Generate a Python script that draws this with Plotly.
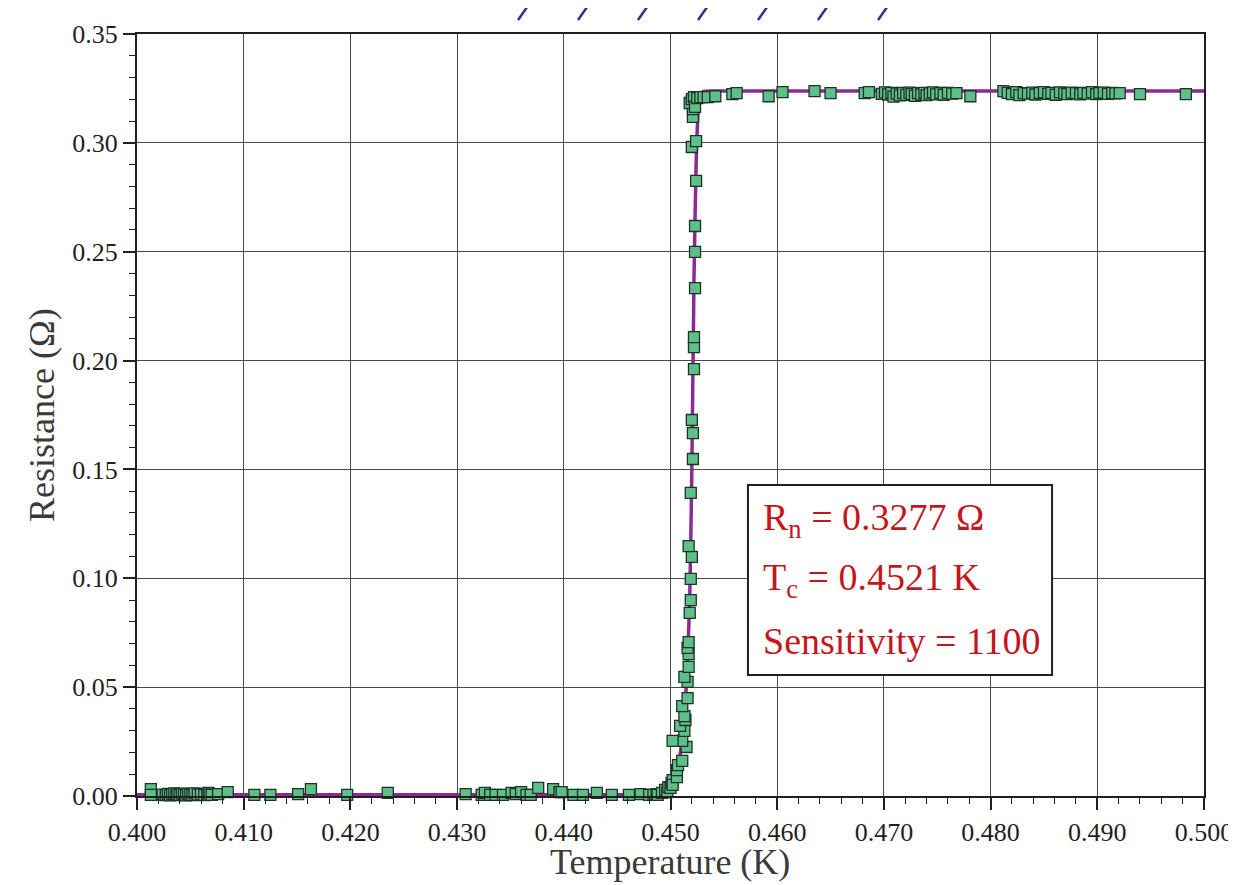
import plotly.graph_objects as go

# ---- fitted curve ----
fit_T = [0.4000, 0.4460, 0.4480, 0.4490, 0.4497, 0.4503, 0.4508, 0.4511, 0.4515,
         0.4518, 0.4520, 0.4522, 0.4524, 0.4526, 0.45275, 0.4530, 0.4540, 0.5000]
fit_R = [0.0006, 0.0006, 0.0008, 0.0013, 0.0030, 0.0080, 0.0160, 0.0270, 0.0520,
         0.0900, 0.1500, 0.2370, 0.2900, 0.3150, 0.3220, 0.3235, 0.3238, 0.3238]

low_T = [0.4013, 0.4013, 0.4024, 0.4027, 0.4029, 0.4031, 0.4033, 0.4035, 0.4037,
         0.4038, 0.4040, 0.4042, 0.4044, 0.4046, 0.4048, 0.4050, 0.4052, 0.4054,
         0.4057, 0.4060, 0.4063, 0.4066, 0.4067, 0.4068, 0.4070, 0.4076, 0.4085,
         0.4110, 0.4125, 0.4151, 0.4163, 0.4197, 0.4235, 0.4308, 0.4323, 0.4326,
         0.4331, 0.4336, 0.4343, 0.4351, 0.4355, 0.4360, 0.4365, 0.4369, 0.4376,
         0.4390, 0.4396, 0.4398, 0.4409, 0.4418, 0.4431, 0.4445, 0.4461, 0.4472,
         0.4480, 0.4484, 0.4487, 0.4488, 0.4492, 0.4495, 0.4497, 0.4498, 0.4500,
         0.4501, 0.4502, 0.4502, 0.4506, 0.4506, 0.4507]
low_R = [0.0032, 0.0005, 0.0006, 0.0004, 0.0010, 0.0003, 0.0008, 0.0012, 0.0005,
         0.0009, 0.0004, 0.0011, 0.0006, 0.0003, 0.0010, 0.0007, 0.0004, 0.0012,
         0.0006, 0.0009, 0.0004, 0.0011, 0.0014, 0.0006, 0.0005, 0.0009, 0.0018,
         0.0005, 0.0005, 0.0009, 0.0032, 0.0005, 0.0014, 0.0009, 0.0005, 0.0014,
         0.0005, 0.0005, 0.0005, 0.0014, 0.0009, 0.0018, 0.0005, 0.0005, 0.0037,
         0.0032, 0.0018, 0.0018, 0.0005, 0.0005, 0.0014, 0.0005, 0.0005, 0.0009,
         0.0005, 0.0005, 0.0009, 0.0005, 0.0014, 0.0028, 0.0018, 0.0041, 0.0037,
         0.0060, 0.0073, 0.0051, 0.0087, 0.0119, 0.0142]

mid_T = [0.4511, 0.4515, 0.4511, 0.4513, 0.4509, 0.4514, 0.4513, 0.4502, 0.4511,
         0.4516, 0.4516, 0.4513, 0.4517, 0.4517, 0.4516, 0.4517, 0.4518, 0.4519,
         0.4519, 0.4520, 0.4517, 0.4519, 0.4521, 0.4521, 0.4520, 0.4522, 0.4522,
         0.4522, 0.4523, 0.4523, 0.4523, 0.4524, 0.4520, 0.4524, 0.4521]
mid_R = [0.0161, 0.0225, 0.0253, 0.0299, 0.0322, 0.0349, 0.0367, 0.0253, 0.0413,
         0.0450, 0.0524, 0.0547, 0.0593, 0.0652, 0.0680, 0.0707, 0.0841, 0.0900,
         0.0997, 0.1098, 0.1148, 0.1392, 0.1548, 0.1667, 0.1727, 0.1961, 0.2062,
         0.2108, 0.2333, 0.2499, 0.2618, 0.2825, 0.2981, 0.3008, 0.3119]

high_T = [0.4521, 0.4518, 0.4520, 0.4522, 0.4523, 0.4525, 0.4528, 0.4531, 0.4535,
          0.4542, 0.4558, 0.4562, 0.4592, 0.4605, 0.4635, 0.4650, 0.4682, 0.4686,
          0.4698, 0.4701, 0.4704, 0.4707, 0.4709, 0.4712, 0.4715, 0.4718, 0.4721,
          0.4724, 0.4726, 0.4729, 0.4732, 0.4735, 0.4738, 0.4740, 0.4743, 0.4746,
          0.4749, 0.4753, 0.4756, 0.4760, 0.4764, 0.4768, 0.4781, 0.4812, 0.4816,
          0.4820, 0.4824, 0.4827, 0.4831, 0.4835, 0.4839, 0.4842, 0.4846, 0.4850,
          0.4854, 0.4857, 0.4861, 0.4865, 0.4869, 0.4872, 0.4876, 0.4880, 0.4884,
          0.4887, 0.4891, 0.4895, 0.4899, 0.4902, 0.4906, 0.4910, 0.4914, 0.4917,
          0.4921, 0.4940, 0.4983]
high_R = [0.3155, 0.3183, 0.3201, 0.3210, 0.3165, 0.3206, 0.3210, 0.3210, 0.3210,
          0.3214, 0.3224, 0.3228, 0.3214, 0.3233, 0.3238, 0.3228, 0.3228, 0.3233,
          0.3225, 0.3232, 0.3222, 0.3230, 0.3212, 0.3226, 0.3218, 0.3229, 0.3220,
          0.3231, 0.3224, 0.3216, 0.3228, 0.3222, 0.3230, 0.3219, 0.3227, 0.3232,
          0.3223, 0.3229, 0.3221, 0.3230, 0.3226, 0.3228, 0.3214, 0.3238, 0.3230,
          0.3224, 0.3233, 0.3219, 0.3228, 0.3226, 0.3231, 0.3222, 0.3229, 0.3233,
          0.3225, 0.3230, 0.3221, 0.3232, 0.3227, 0.3224, 0.3231, 0.3228, 0.3223,
          0.3230, 0.3226, 0.3233, 0.3224, 0.3229, 0.3231, 0.3225, 0.3230, 0.3227,
          0.3228, 0.3224, 0.3224]

data_T = low_T + mid_T + high_T
data_R = low_R + mid_R + high_R

x_ticks = [0.40, 0.41, 0.42, 0.43, 0.44, 0.45, 0.46, 0.47, 0.48, 0.49, 0.50]
y_ticks = [0.00, 0.05, 0.10, 0.15, 0.20, 0.25, 0.30, 0.35]

x_title = "Temperature (K)"
y_title = "Resistance (Ω)"
box_lines = ["R<sub>n</sub> = 0.3277 Ω", "T<sub>c</sub> = 0.4521 K", "Sensitivity = 1100"]

# decorative slashes above the plot (paper x positions)
slash_x = [0.3571, 0.4133, 0.4695, 0.5258, 0.5820, 0.6382, 0.6945]

FONT = "Liberation Serif"
INK = "#231f20"

fig = go.Figure()
fig.add_trace(go.Scatter(x=fit_T, y=fit_R, mode="lines",
                         line=dict(color="#8c2a91", width=3.5, shape="spline", smoothing=0.5),
                         hoverinfo="skip", showlegend=False))
fig.add_trace(go.Scatter(x=data_T, y=data_R, mode="markers",
                         marker=dict(symbol="square", size=11, color="#5fbf88",
                                     line=dict(color="#1e3328", width=1.3)),
                         cliponaxis=False, showlegend=False))

axis_common = dict(
    automargin=False,
    showline=True, linewidth=2, linecolor=INK, mirror=True,
    showgrid=True, gridcolor="#4a4a4a", gridwidth=1, zeroline=False,
    ticks="outside", ticklen=12, tickwidth=1.5, tickcolor=INK,
    tickfont=dict(family=FONT, size=26, color=INK),
)

# page body has an 8px margin, so the figure is 8px smaller and margins shifted
fig.update_layout(
    width=1228, height=877,
    margin=dict(l=129, r=32, t=26, b=89),
    paper_bgcolor="white", plot_bgcolor="white",
    font=dict(family=FONT, color=INK),
    xaxis=dict(range=[0.4, 0.5], tickvals=x_ticks, tickformat=".3f",
               minor=dict(dtick=0.002, ticks="outside", ticklen=6, tickwidth=1.2,
                          tickcolor=INK, showgrid=False),
               **axis_common),
    yaxis=dict(range=[0, 0.35], tickvals=y_ticks, tickformat=".2f",
               minor=dict(dtick=0.01, ticks="outside", ticklen=6, tickwidth=1.2,
                          tickcolor=INK, showgrid=False),
               **axis_common),
)

# axis titles
fig.add_annotation(xref="paper", yref="paper", x=0.4995, y=-0.0866, text=x_title,
                   showarrow=False, xanchor="center", yanchor="middle",
                   font=dict(family=FONT, size=36, color="#3a3a3a"))
fig.add_annotation(xref="paper", yref="paper", x=-0.089, y=0.5, text=y_title,
                   showarrow=False, xanchor="center", yanchor="middle", textangle=-90,
                   font=dict(family=FONT, size=36, color="#3a3a3a"))

# text box
fig.add_shape(type="rect", xref="paper", yref="paper",
              x0=0.5726, x1=0.8576, y0=0.1588, y1=0.4081,
              line=dict(color=INK, width=2), fillcolor="white", layer="above")
for i, txt in enumerate(box_lines):
    fig.add_annotation(xref="paper", yref="paper", x=0.5845, y=0.3620 - i * 0.0790,
                       text=txt, showarrow=False, xanchor="left", yanchor="middle",
                       font=dict(family=FONT, size=38, color="#c4161c"))

for sx in slash_x:
    fig.add_shape(type="line", xref="paper", yref="paper",
                  x0=sx, x1=sx + 0.0131, y0=1.0184, y1=1.0446,
                  line=dict(color="#2e3192", width=2.5))

fig.write_html("out.html")
